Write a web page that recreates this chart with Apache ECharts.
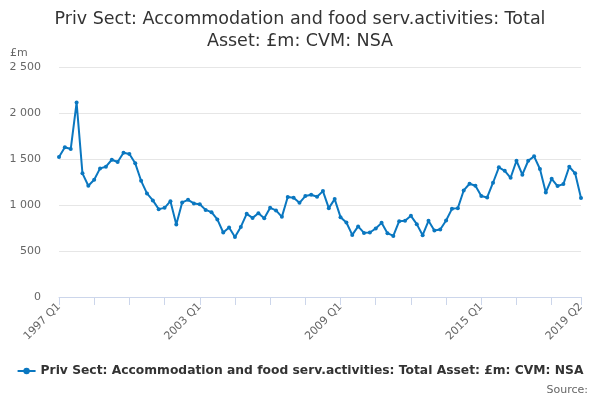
<!DOCTYPE html>
<html>
<head>
<meta charset="utf-8">
<script src="https://cdn.jsdelivr.net/npm/echarts@6/dist/echarts.min.js"></script>
<style>
    html, body { margin: 0; padding: 0; background: #fff; }
    #asset_chart { width: 600px; height: 400px; }
</style>
</head>
<body>
<div id="asset_chart"></div>
<script>

// Chart data
// ------------------------------

var quarterYears = [1997, 2019];   // first and last year of the quarterly series
var lastQuarter = 2;               // series ends in 2019 Q2

var assetValues = [
    1521, 1627, 1608, 2113, 1344, 1209, 1274, 1398, 1416, 1492,
    1467, 1568, 1554, 1453, 1263, 1126, 1050, 955, 969, 1042,
    788, 1028, 1056, 1017, 1009, 947, 922, 843, 701, 756,
    653, 762, 904, 860, 911, 857, 969, 941, 871, 1086,
    1078, 1024, 1097, 1111, 1089, 1151, 966, 1064, 868, 810,
    675, 767, 697, 701, 745, 806, 694, 664, 824, 828,
    882, 792, 672, 828, 723, 734, 832, 958, 966, 1158,
    1231, 1209, 1097, 1082, 1242, 1409, 1372, 1296, 1481, 1329,
    1481, 1529, 1391, 1137, 1285, 1206, 1227, 1416, 1344, 1075
];

var yTicks = [0, 500, 1000, 1500, 2000, 2500];

var seriesName = 'Priv Sect: Accommodation and food serv.activities: Total Asset: £m: CVM: NSA';

// Build the quarter labels, e.g. "1997 Q1"
var quarters = [];
for (var y = quarterYears[0]; y <= quarterYears[1]; y++) {
    for (var q = 1; q <= 4; q++) {
        if (y === quarterYears[1] && q > lastQuarter) break;
        quarters.push(y + ' Q' + q);
    }
}


// Setup module
// ------------------------------

var AssetLineChart = function() {

    var _assetLine = function() {
        if (typeof echarts == 'undefined') {
            console.warn('Warning - echarts.min.js is not loaded.');
            return;
        }

        var chart_element = document.getElementById('asset_chart');
        if (!chart_element) return;

        var chart = echarts.init(chart_element);
        var lastIndex = quarters.length - 1;
        var fontFamily = '"DejaVu Sans", Verdana, sans-serif';

        chart.setOption({

            color: ['#0a77c0'],
            animation: false,

            textStyle: {
                fontFamily: fontFamily
            },

            // Two-line title
            title: {
                text: 'Priv Sect: Accommodation and food serv.activities: Total\nAsset: £m: CVM: NSA',
                left: 'center',
                top: 3,
                textStyle: {
                    fontSize: 17.5,
                    fontWeight: 'normal',
                    color: '#333',
                    lineHeight: 22,
                    fontFamily: fontFamily
                }
            },

            grid: {
                left: 59,
                right: 19,
                top: 67,
                bottom: 103
            },

            legend: {
                data: [seriesName],
                bottom: 18,
                left: 'center',
                itemWidth: 18,
                itemHeight: 8,
                itemGap: 4,
                textStyle: {
                    fontSize: 12.3,
                    fontWeight: 'bold',
                    color: '#333',
                    fontFamily: fontFamily
                }
            },

            // Horizontal axis
            xAxis: {
                type: 'category',
                boundaryGap: false,
                data: quarters,
                axisLine: {
                    lineStyle: { color: '#ccd6eb' }
                },
                axisTick: {
                    length: 8,
                    interval: function(i) { return i % 6 === 0 || i === lastIndex; },
                    lineStyle: { color: '#ccd6eb' }
                },
                axisLabel: {
                    rotate: 45,
                    color: '#666',
                    fontSize: 11,
                    margin: 8,
                    interval: function(i) { return i % 24 === 0 || i === lastIndex; },
                    fontFamily: fontFamily
                },
                splitLine: { show: false }
            },

            // Vertical axis
            yAxis: {
                type: 'value',
                min: yTicks[0],
                max: yTicks[yTicks.length - 1],
                interval: yTicks[1] - yTicks[0],
                name: '£m',
                nameLocation: 'end',
                nameGap: 8,
                nameTextStyle: {
                    color: '#666',
                    fontSize: 11,
                    align: 'left',
                    padding: [0, 0, 0, -49],
                    fontFamily: fontFamily
                },
                axisLine: { show: false },
                axisTick: { show: false },
                axisLabel: {
                    color: '#666',
                    fontSize: 11,
                    margin: 18,
                    fontFamily: fontFamily,
                    formatter: function(v) {
                        return String(v).replace(/\B(?=(\d{3})+(?!\d))/g, ' ');
                    }
                },
                splitLine: {
                    lineStyle: { color: '#e6e6e6' }
                }
            },

            // Source note
            graphic: [{
                type: 'text',
                right: 12,
                bottom: 4,
                style: {
                    text: 'Source:',
                    fill: '#666',
                    fontSize: 11,
                    fontFamily: fontFamily
                }
            }],

            series: [{
                name: seriesName,
                type: 'line',
                data: assetValues,
                symbol: 'circle',
                symbolSize: 4,
                showAllSymbol: true,
                lineStyle: { width: 2 },
                itemStyle: { color: '#0a77c0' }
            }]
        });
    };

    return {
        init: function() {
            _assetLine();
        }
    };
}();


// Initialize module
// ------------------------------

document.addEventListener('DOMContentLoaded', function() {
    AssetLineChart.init();
});
</script>
</body>
</html>
